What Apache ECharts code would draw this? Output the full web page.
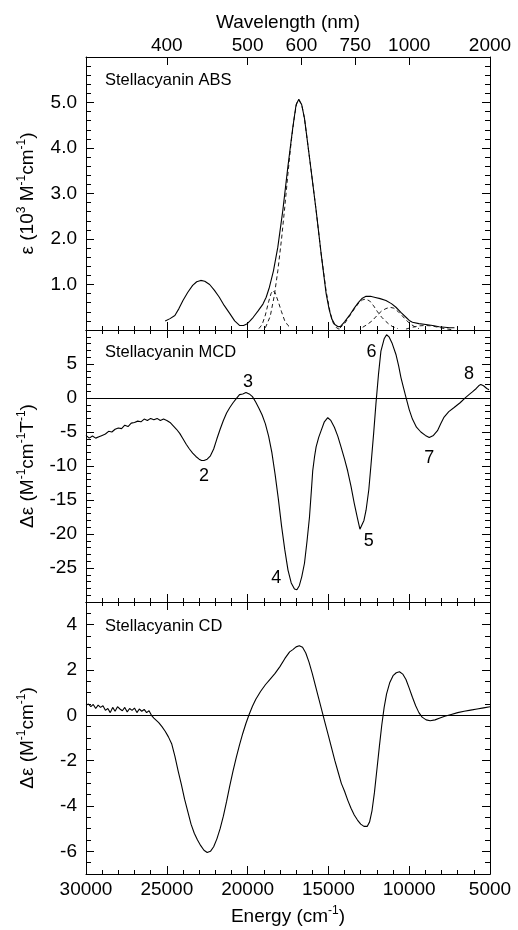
<!DOCTYPE html>
<html><head><meta charset="utf-8">
<script src="https://cdn.jsdelivr.net/npm/echarts@6/dist/echarts.min.js"></script>
<style>html,body{margin:0;padding:0;background:#fff}#c{width:518px;height:930px}</style>
</head><body><div id="c"></div>
<script>
// ---------- DATA ----------
const waveLabels = [400, 500, 600, 750, 1000, 2000];          // nm, top axis tick labels
const cdTickValues = [-6, -4, -2, 0, 2, 4];

// ABS (solid)
const absEnergy = [25100,24800,24500,24250,24000,23700,23400,23150,22900,22650,22350,22050,21750,21450,21100,20800,20500,20250,20050,19850,19650,19350,19050,18850,18650,18400,18130,17820,17510,17200,17000,16830,16650,16480,16300,16070,15760,15450,15140,14950,14800,14600,14400,14250,14000,13700,13400,13150,12900,12670,12400,12160,11800,11440,11100,10820,10500,10200,10000,9800,9400,8970,8550,8150,7800,7500,7200];
const absValues = [0.2,0.25,0.32,0.47,0.65,0.83,0.98,1.06,1.09,1.07,1.0,0.87,0.72,0.54,0.36,0.2,0.1,0.1,0.13,0.2,0.28,0.42,0.57,0.72,0.94,1.3,1.82,2.63,3.58,4.46,4.95,5.07,4.95,4.65,4.15,3.51,2.63,1.68,0.8,0.45,0.25,0.12,0.07,0.08,0.18,0.32,0.48,0.6,0.7,0.74,0.74,0.72,0.69,0.65,0.58,0.5,0.38,0.28,0.21,0.17,0.14,0.12,0.1,0.07,0.06,0.05,0.05];

// ABS Gaussian components (dashed)
const bandBEnergy = [19300,19100,18900,18700,18550,18440,18300,18100,17900,17700,17500,17300];
const bandBValues = [0.03,0.12,0.33,0.62,0.8,0.87,0.82,0.62,0.4,0.2,0.1,0.04];
const bandCEnergy = [18900,18600,18350,18130,17900,17700,17500,17300,17100,16950,16830,16650,16480,16300,16070,15760,15450,15140,14900,14700,14500,14300];
const bandCValues = [0.05,0.3,0.75,1.3,2.0,2.7,3.45,4.15,4.7,5.0,5.05,4.95,4.65,4.15,3.51,2.63,1.68,0.85,0.4,0.15,0.05,0.01];
const bandDEnergy = [14300,14000,13700,13400,13150,12900,12700,12450,12200,11960,11700,11450,11230,11000,10700];
const bandDValues = [0.04,0.14,0.3,0.46,0.58,0.66,0.68,0.64,0.53,0.4,0.28,0.19,0.12,0.07,0.03];
const bandEEnergy = [12880,12600,12300,11960,11700,11440,11200,10950,10700,10450,10200,9950,9700,9400];
const bandEValues = [0.06,0.12,0.2,0.33,0.42,0.47,0.5,0.48,0.41,0.32,0.22,0.14,0.08,0.03];
const bandFEnergy = [10200,9800,9400,9000,8600,8200,7800,7400];
const bandFValues = [0.02,0.06,0.09,0.1,0.09,0.06,0.03,0.01];

// MCD
const mcdEnergy = [30000,29800,29600,29400,29200,29000,28800,28600,28400,28200,28000,27800,27600,27400,27200,27000,26800,26600,26400,26200,26000,25800,25600,25400,25200,25000,24800,24600,24400,24200,24000,23800,23600,23400,23200,23000,22850,22700,22500,22300,22100,21900,21700,21500,21300,21100,20900,20700,20500,20300,20100,19900,19700,19500,19300,19100,18900,18700,18500,18300,18100,17900,17700,17500,17300,17100,16950,16800,16650,16480,16320,16170,16050,15970,15850,15760,15600,15450,15250,15040,14850,14630,14420,14220,14000,13810,13600,13400,13200,13050,12950,12800,12670,12500,12360,12200,12060,11900,11750,11550,11400,11250,11050,10820,10650,10510,10350,10200,10000,9800,9550,9280,9000,8760,8500,8250,8050,7840,7550,7220,6850,6500,6300,6090,5850,5700,5570,5400,5200,5060];
const mcdValues = [-5.5,-5.9,-5.6,-5.9,-5.7,-5.5,-5.3,-4.9,-5.0,-4.6,-4.4,-4.5,-4.0,-4.2,-3.7,-3.6,-3.4,-3.5,-3.1,-3.3,-3.0,-3.2,-3.0,-3.3,-3.1,-3.3,-3.6,-4.1,-4.6,-5.2,-6.0,-6.8,-7.5,-8.1,-8.6,-9.0,-9.2,-9.2,-9.0,-8.5,-7.5,-6.0,-4.6,-3.3,-2.2,-1.4,-0.7,-0.1,0.5,0.6,0.8,0.6,0.2,-0.6,-1.5,-2.5,-3.8,-5.6,-8.0,-11.2,-14.8,-18.8,-22.3,-25.3,-27.2,-28.1,-28.2,-27.6,-26.3,-24.3,-21.0,-17.5,-13.5,-10.7,-8.5,-7.2,-5.8,-4.8,-3.5,-2.9,-3.3,-4.3,-5.6,-7.2,-9.0,-10.7,-13.0,-15.5,-17.7,-19.3,-19.2,-18.0,-16.5,-13.5,-9.7,-5.2,-0.9,3.5,6.9,8.7,9.3,9.0,8.0,6.4,4.7,3.0,1.5,0.1,-1.7,-3.1,-4.3,-5.0,-5.5,-5.8,-5.5,-4.8,-3.8,-2.8,-2.0,-1.4,-0.7,0.1,0.5,0.9,1.4,1.8,2.0,1.8,1.4,1.2];
const mcdBandLabels = ['2', '3', '4', '5', '6', '7', '8'];
const mcdBandLabelEnergy = [22700, 19980, 18230, 12510, 12330, 8760, 6300];
const mcdBandLabelValue = [-11.5, 2.3, -26.5, -21.0, 6.7, -8.9, 3.5];

// CD
const cdEnergy = [30000,29850,29700,29550,29400,29250,29100,28950,28800,28650,28500,28350,28200,28050,27900,27750,27600,27450,27300,27150,27000,26850,26700,26550,26400,26250,26100,25950,25800,25650,25500,25300,25100,24900,24700,24500,24300,24100,23900,23700,23500,23300,23100,22900,22700,22500,22300,22100,21900,21700,21500,21300,21100,20900,20700,20500,20300,20100,19900,19700,19500,19200,18900,18600,18300,18000,17700,17400,17200,17000,16800,16600,16400,16200,16000,15800,15600,15400,15200,15000,14800,14600,14400,14200,14000,13800,13600,13400,13200,13000,12800,12600,12450,12300,12150,12000,11850,11700,11550,11400,11200,11000,10800,10600,10400,10200,10000,9800,9600,9400,9200,8950,8700,8400,8100,7800,7400,7000,6600,6200,5800,5400,5000];
const cdValues = [0.45,0.5,0.38,0.48,0.3,0.45,0.35,0.42,0.22,0.3,0.12,0.35,0.18,0.38,0.28,0.2,0.35,0.15,0.3,0.22,0.32,0.12,0.28,0.18,0.26,0.12,0.2,0.0,-0.12,-0.22,-0.32,-0.5,-0.7,-0.95,-1.25,-1.8,-2.45,-3.05,-3.7,-4.25,-4.8,-5.2,-5.5,-5.75,-5.95,-6.05,-6.0,-5.8,-5.45,-5.0,-4.45,-3.8,-3.1,-2.45,-1.85,-1.3,-0.8,-0.35,0.05,0.4,0.7,1.05,1.35,1.6,1.85,2.15,2.5,2.8,2.9,3.02,3.07,3.0,2.75,2.35,1.85,1.3,0.75,0.2,-0.35,-0.9,-1.45,-2.0,-2.5,-3.0,-3.35,-3.75,-4.1,-4.4,-4.62,-4.8,-4.9,-4.9,-4.7,-4.2,-3.4,-2.4,-1.4,-0.45,0.35,0.95,1.45,1.75,1.88,1.92,1.82,1.58,1.2,0.8,0.42,0.12,-0.08,-0.2,-0.24,-0.2,-0.12,-0.04,0.04,0.12,0.18,0.23,0.28,0.33,0.38];

// ---------- CHART ----------
const FONT = '"Liberation Sans", Arial, Helvetica, sans-serif';
const zip = (a, b) => a.map((v, i) => [v, b[i]]);
const black = '#000';
const richName = {
  t: { fontSize: 19, fontFamily: FONT, color: black, lineHeight: 24 },
  s: { fontSize: 12, fontFamily: FONT, color: black, verticalAlign: 'top', lineHeight: 14 }
};

function xAx(g, pos, extra) {
  return Object.assign({
    type: 'value', gridIndex: g, position: pos, min: 5000, max: 30000, interval: 5000, inverse: true,
    axisLine: { show: true, onZero: false, lineStyle: { color: black, width: 1 } },
    axisTick: { show: true, inside: true, length: 8, lineStyle: { color: black, width: 1 } },
    minorTick: { show: true, splitNumber: 5, length: 4, lineStyle: { color: black, width: 1 } },
    axisLabel: { show: false },
    splitLine: { show: false }, minorSplitLine: { show: false }
  }, extra || {});
}
function yAx(g, pos, min, max, interval, minorSplit, extra) {
  return Object.assign({
    type: 'value', gridIndex: g, position: pos, min: min, max: max, interval: interval,
    axisLine: { show: true, onZero: false, lineStyle: { color: black, width: 1 } },
    axisTick: { show: true, inside: true, length: 8, lineStyle: { color: black, width: 1 } },
    minorTick: { show: minorSplit > 0, splitNumber: minorSplit || 5, length: 5, lineStyle: { color: black, width: 1 } },
    axisLabel: { show: false },
    splitLine: { show: false }, minorSplitLine: { show: false }
  }, extra || {});
}
const tickLabel = { show: true, color: black, fontSize: 19, fontFamily: FONT };
const waveTickEnergy = waveLabels.map(w => 1e7 / w);

const option = {
  animation: false,
  backgroundColor: '#fff',
  title: [
    { text: 'Stellacyanin ABS', left: 105, top: 72, padding: 0, textStyle: { fontSize: 16.5, fontWeight: 'normal', color: black, fontFamily: FONT } },
    { text: 'Stellacyanin MCD', left: 105, top: 344, padding: 0, textStyle: { fontSize: 16.5, fontWeight: 'normal', color: black, fontFamily: FONT } },
    { text: 'Stellacyanin CD', left: 105, top: 618, padding: 0, textStyle: { fontSize: 16.5, fontWeight: 'normal', color: black, fontFamily: FONT } }
  ],
  grid: [
    { left: 86, right: 28, top: 57, height: 273 },
    { left: 86, right: 28, top: 330, height: 272 },
    { left: 86, right: 28, top: 602, height: 272 }
  ],
  xAxis: [
    xAx(0, 'bottom'),
    xAx(0, 'top', {
      interval: null,
      minorTick: { show: false },
      axisTick: { show: true, inside: true, length: 8, lineStyle: { color: black }, customValues: waveTickEnergy },
      axisLabel: Object.assign({}, tickLabel, { margin: 2, customValues: waveTickEnergy, formatter: v => String(Math.round(1e7 / v)) }),
      name: 'Wavelength (nm)', nameLocation: 'middle', nameGap: 25,
      nameTextStyle: { fontSize: 19, color: black, fontFamily: FONT }
    }),
    xAx(1, 'bottom'),
    xAx(1, 'top'),
    xAx(2, 'bottom', {
      axisLabel: Object.assign({}, tickLabel, { margin: 6, formatter: v => String(v) }),
      name: '{t|Energy (cm}{s|-1}{t|)}', nameLocation: 'middle', nameGap: 31,
      nameTextStyle: { rich: richName }
    }),
    xAx(2, 'top')
  ],
  yAxis: [
    yAx(0, 'left', 0, 6, 1, 5, {
      axisLabel: Object.assign({}, tickLabel, { margin: 9, showMinLabel: false, showMaxLabel: false, formatter: v => v.toFixed(1) }),
      name: '{t|ε (10}{s|3}{t| M}{s|-1}{t|cm}{s|-1}{t|)}', nameLocation: 'middle', nameGap: 46, nameRotate: 90,
      nameTextStyle: { rich: richName }
    }),
    yAx(0, 'right', 0, 6, 1, 5),
    yAx(1, 'left', -30, 10, 5, 5, {
      axisLabel: Object.assign({}, tickLabel, { margin: 9, showMinLabel: false, showMaxLabel: false }),
      name: '{t|Δε (M}{s|-1}{t|cm}{s|-1}{t|T}{s|-1}{t|)}', nameLocation: 'middle', nameGap: 46, nameRotate: 90,
      nameTextStyle: { rich: richName }
    }),
    yAx(1, 'right', -30, 10, 5, 5),
    yAx(2, 'left', -7, 5, null, 0, {
      axisTick: { show: true, inside: true, length: 8, lineStyle: { color: black }, customValues: cdTickValues },
      axisLabel: Object.assign({}, tickLabel, { margin: 9, customValues: cdTickValues }),
      name: '{t|Δε (M}{s|-1}{t|cm}{s|-1}{t|)}', nameLocation: 'middle', nameGap: 46, nameRotate: 90,
      nameTextStyle: { rich: richName }
    }),
    yAx(2, 'left', -7, 5, 0.5, 0, { axisTick: { show: true, inside: true, length: 5, lineStyle: { color: black } } }),
    yAx(2, 'right', -7, 5, null, 0, {
      axisTick: { show: true, inside: true, length: 8, lineStyle: { color: black }, customValues: cdTickValues }
    }),
    yAx(2, 'right', -7, 5, 0.5, 0, { axisTick: { show: true, inside: true, length: 5, lineStyle: { color: black } } })
  ],
  series: [
    { type: 'line', xAxisIndex: 0, yAxisIndex: 0, data: zip(absEnergy, absValues), showSymbol: false, lineStyle: { color: black, width: 1.1 } },
    { type: 'line', xAxisIndex: 0, yAxisIndex: 0, data: zip(bandBEnergy, bandBValues), showSymbol: false, lineStyle: { color: black, width: 0.9, type: [4, 3] } },
    { type: 'line', xAxisIndex: 0, yAxisIndex: 0, data: zip(bandCEnergy, bandCValues), showSymbol: false, lineStyle: { color: black, width: 0.9, type: [4, 3] } },
    { type: 'line', xAxisIndex: 0, yAxisIndex: 0, data: zip(bandDEnergy, bandDValues), showSymbol: false, lineStyle: { color: black, width: 0.9, type: [4, 3] } },
    { type: 'line', xAxisIndex: 0, yAxisIndex: 0, data: zip(bandEEnergy, bandEValues), showSymbol: false, lineStyle: { color: black, width: 0.9, type: [4, 3] } },
    { type: 'line', xAxisIndex: 0, yAxisIndex: 0, data: zip(bandFEnergy, bandFValues), showSymbol: false, lineStyle: { color: black, width: 0.9, type: [4, 3] } },
    { type: 'line', xAxisIndex: 2, yAxisIndex: 2, data: zip(mcdEnergy, mcdValues), showSymbol: false, lineStyle: { color: black, width: 1.1 },
      markLine: { silent: true, symbol: ['none', 'none'], label: { show: false }, lineStyle: { color: black, width: 1, type: 'solid' }, data: [{ yAxis: 0 }] } },
    { type: 'scatter', xAxisIndex: 2, yAxisIndex: 2, symbol: 'circle', symbolSize: 0, itemStyle: { color: black, opacity: 1 },
      data: mcdBandLabels.map((t, i) => [mcdBandLabelEnergy[i], mcdBandLabelValue[i], t]),
      label: { show: true, position: 'inside', formatter: p => p.data[2], color: '#000', opacity: 1, textBorderWidth: 0, fontSize: 18, fontFamily: FONT },
      emphasis: { disabled: true } },
    { type: 'line', xAxisIndex: 4, yAxisIndex: 4, data: zip(cdEnergy, cdValues), showSymbol: false, lineStyle: { color: black, width: 1.1 },
      markLine: { silent: true, symbol: ['none', 'none'], label: { show: false }, lineStyle: { color: black, width: 1, type: 'solid' }, data: [{ yAxis: 0 }] } }
  ]
};
const chart = echarts.init(document.getElementById('c'), null, { renderer: 'canvas' });
chart.setOption(option);
</script></body></html>
